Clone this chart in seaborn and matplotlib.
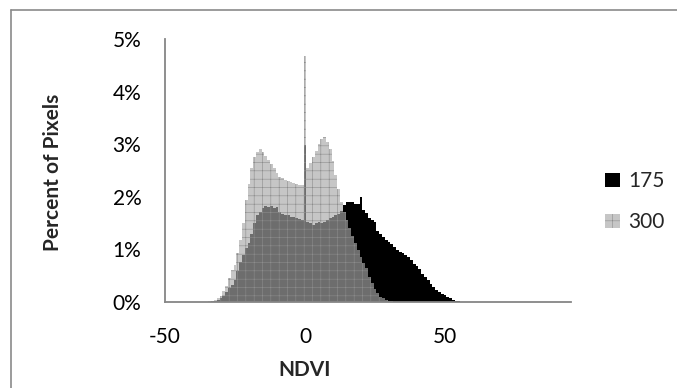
import numpy as np
import matplotlib
matplotlib.use("Agg")
import matplotlib.pyplot as plt
import seaborn as sns
from matplotlib.ticker import PercentFormatter
from matplotlib.lines import Line2D

# ── data: percent of pixels per NDVI bin ──────────
ndvi = list(range(-35, 57))

pct_175 = [0, 0, 0.01, 0.02, 0.04, 0.07, 0.12, 0.19, 0.27, 0.33,
           0.42, 0.58, 0.76, 0.90, 1.02, 1.13, 1.30, 1.50, 1.65, 1.72,
           1.78, 1.82, 1.80, 1.83, 1.78, 1.80, 1.72, 1.68, 1.66, 1.65,
           1.62, 1.62, 1.60, 1.57, 1.55, 2.98, 1.53, 1.50, 1.47, 1.50,
           1.52, 1.50, 1.52, 1.55, 1.60, 1.62, 1.65, 1.68, 1.73, 1.85,
           1.90, 1.91, 1.90, 1.86, 1.86, 2.00, 1.75, 1.69, 1.60, 1.56,
           1.53, 1.35, 1.30, 1.24, 1.18, 1.15, 1.10, 1.05, 0.98, 0.95,
           0.93, 0.90, 0.86, 0.80, 0.72, 0.68, 0.62, 0.53, 0.48, 0.42,
           0.34, 0.28, 0.23, 0.19, 0.16, 0.13, 0.10, 0.07, 0.04, 0.02,
           0.01, 0]

pct_300 = [0, 0.01, 0.02, 0.04, 0.07, 0.12, 0.20, 0.30, 0.45, 0.60,
           0.70, 0.93, 1.18, 1.50, 1.94, 2.25, 2.55, 2.75, 2.85, 2.90,
           2.85, 2.78, 2.70, 2.62, 2.55, 2.45, 2.38, 2.35, 2.32, 2.30,
           2.28, 2.26, 2.24, 2.22, 2.22, 4.68, 2.55, 2.65, 2.75, 2.88,
           3.00, 3.10, 3.13, 3.05, 2.90, 2.68, 2.42, 2.15, 1.90, 1.72,
           1.55, 1.40, 1.25, 1.12, 0.98, 0.86, 0.74, 0.64, 0.48, 0.36,
           0.25, 0.17, 0.10, 0.07, 0.04, 0.02, 0.01, 0, 0, 0,
           0, 0, 0, 0, 0, 0, 0, 0, 0, 0,
           0, 0, 0, 0, 0, 0, 0, 0, 0, 0,
           0, 0]

sns.set_style("white")
plt.rcParams['font.family'] = ['Lato', 'DejaVu Sans']
plt.rcParams['axes.unicode_minus'] = False
plt.rcParams['hatch.linewidth'] = 0.4

fig = plt.figure(figsize=(6.77, 3.88), dpi=100)
ax = fig.add_axes([165/677, 1 - 302/388, (571-165)/677, (302-39)/388])

sns.histplot(x=ndvi, weights=pct_175, discrete=True, color='black',
             alpha=1, linewidth=0, label='175', ax=ax)
sns.histplot(x=ndvi, weights=pct_300, discrete=True, color='#a8a8a8',
             alpha=0.65, linewidth=0, edgecolor='#8c8c8c', hatch='++',
             label='300', ax=ax)

ax.set_xlim(-50, 95)
ax.set_ylim(0, 5)
ax.set_xticks([-50, 0, 50])
ax.set_yticks([0, 1, 2, 3, 4, 5])
ax.yaxis.set_major_formatter(PercentFormatter(decimals=0))
ax.set_xlabel('')
ax.set_ylabel('')

axis_grey = '#868686'
for s in ['top', 'right']:
    ax.spines[s].set_visible(False)
for s in ['left', 'bottom']:
    ax.spines[s].set_color(axis_grey)
    ax.spines[s].set_linewidth(1.3)
ax.tick_params(axis='both', direction='out', length=6, width=1.3,
               color=axis_grey, labelsize=15, labelcolor='black', pad=11)
ax.tick_params(axis='x', pad=12)

fig.text(53/677, 1 - 172/388, 'Percent of Pixels', rotation=90,
         ha='center', va='center', fontsize=15, fontweight='bold')
fig.text(305/677, 1 - 370/388, 'NDVI', ha='center', va='center',
         fontsize=15, fontweight='bold')

ax.legend(loc='upper left', bbox_to_anchor=(597/677, 1 - 163/388),
          bbox_transform=fig.transFigure, frameon=False, fontsize=15,
          handlelength=0.7, handleheight=0.7, handletextpad=0.4,
          labelspacing=1.0, borderaxespad=0)

# outer chart frame (only top and left edges visible)
fig.add_artist(Line2D([11/677, 1], [1 - 10/388, 1 - 10/388],
                      transform=fig.transFigure, color='#8a8a8a', lw=1.2))
fig.add_artist(Line2D([11/677, 11/677], [0, 1 - 10/388],
                      transform=fig.transFigure, color='#8a8a8a', lw=1.2))

fig.savefig('out.png', dpi=100)
